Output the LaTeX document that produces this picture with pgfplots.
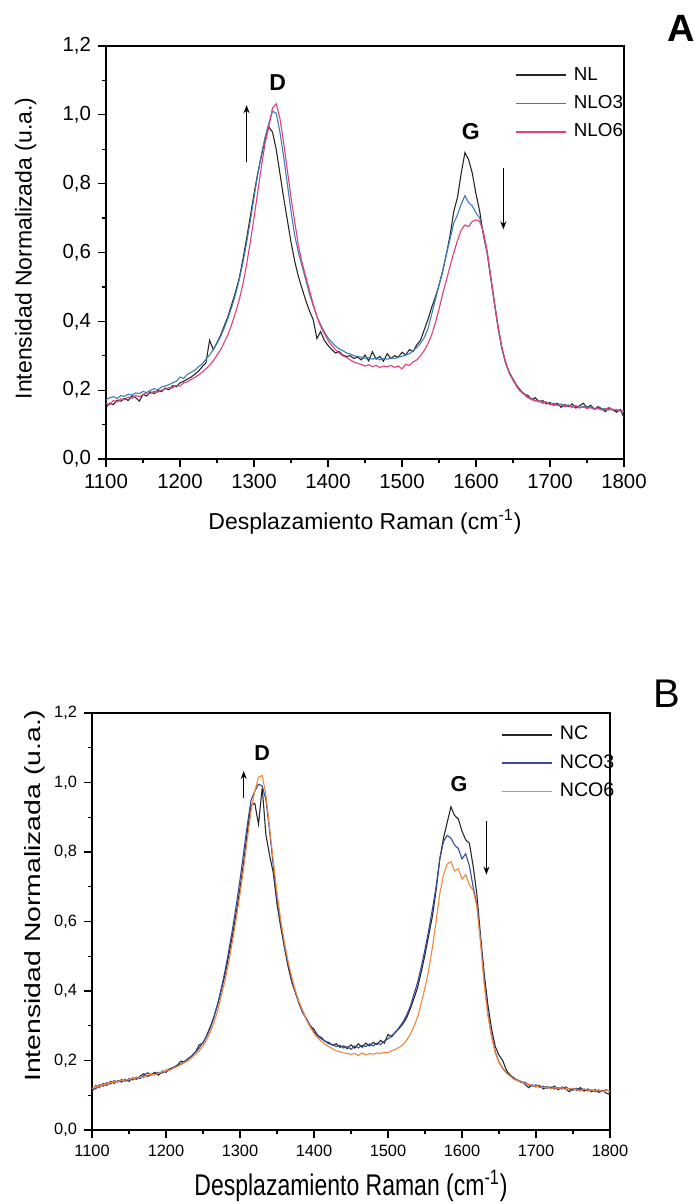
\documentclass[border=0pt]{standalone}
\usepackage{pgfplots}
\pgfplotsset{compat=1.18}
\usepackage{pgfplotstable}
\usepackage{graphicx}
\usepackage{fontspec}
\setmainfont{Liberation Sans}
\usetikzlibrary{arrows.meta}

\definecolor{nlblack}{RGB}{40,40,40}
\definecolor{nlblue}{RGB}{60,125,185}
\definecolor{nlpink}{RGB}{230,60,120}
\definecolor{ncblue}{RGB}{55,75,160}
\definecolor{ncorange}{RGB}{240,135,60}

% panel A: NL, NLO3, NLO6
\pgfplotstableread{
x nl nlo3 nlo6
1100 0.150 0.172 0.162
1105 0.162 0.178 0.158
1110 0.158 0.181 0.170
1115 0.171 0.176 0.166
1120 0.168 0.184 0.175
1125 0.176 0.182 0.172
1130 0.170 0.188 0.180
1135 0.184 0.186 0.176
1140 0.179 0.192 0.185
1145 0.168 0.190 0.181
1150 0.188 0.196 0.187
1155 0.183 0.193 0.192
1160 0.195 0.200 0.190
1165 0.190 0.204 0.197
1170 0.199 0.201 0.194
1175 0.196 0.209 0.200
1180 0.206 0.212 0.203
1185 0.201 0.216 0.208
1190 0.213 0.221 0.206
1195 0.210 0.226 0.214
1200 0.221 0.238 0.212
1205 0.226 0.234 0.221
1210 0.232 0.246 0.224
1215 0.238 0.252 0.231
1220 0.246 0.258 0.237
1225 0.255 0.268 0.244
1230 0.268 0.276 0.252
1235 0.279 0.290 0.262
1240 0.345 0.302 0.272
1245 0.318 0.318 0.286
1250 0.338 0.336 0.302
1255 0.360 0.356 0.318
1260 0.388 0.382 0.340
1265 0.415 0.410 0.362
1270 0.450 0.442 0.392
1275 0.485 0.478 0.425
1280 0.525 0.520 0.462
1285 0.580 0.570 0.508
1290 0.640 0.628 0.565
1295 0.705 0.692 0.630
1300 0.770 0.760 0.700
1305 0.830 0.825 0.775
1310 0.880 0.885 0.850
1315 0.930 0.935 0.918
1320 0.965 0.975 0.965
1325 0.950 1.010 1.020
1330 0.900 1.005 1.032
1335 0.830 0.950 0.990
1340 0.760 0.880 0.920
1345 0.695 0.800 0.840
1350 0.630 0.720 0.760
1355 0.575 0.650 0.690
1360 0.530 0.600 0.620
1365 0.495 0.560 0.570
1370 0.460 0.520 0.530
1375 0.430 0.480 0.490
1380 0.405 0.445 0.450
1385 0.350 0.415 0.415
1390 0.370 0.390 0.385
1395 0.345 0.370 0.365
1400 0.330 0.352 0.345
1405 0.318 0.340 0.330
1410 0.308 0.328 0.318
1415 0.312 0.320 0.308
1420 0.302 0.315 0.300
1425 0.298 0.308 0.295
1430 0.300 0.305 0.288
1435 0.292 0.300 0.282
1440 0.296 0.298 0.278
1445 0.288 0.296 0.275
1450 0.302 0.292 0.270
1455 0.285 0.295 0.274
1460 0.312 0.290 0.268
1465 0.290 0.294 0.272
1470 0.298 0.288 0.266
1475 0.284 0.292 0.270
1480 0.306 0.290 0.268
1485 0.292 0.294 0.272
1490 0.300 0.292 0.266
1495 0.296 0.296 0.270
1500 0.310 0.298 0.262
1505 0.302 0.302 0.275
1510 0.318 0.306 0.272
1515 0.312 0.314 0.282
1520 0.332 0.324 0.288
1525 0.345 0.336 0.300
1530 0.375 0.352 0.315
1535 0.405 0.378 0.335
1540 0.440 0.420 0.360
1545 0.470 0.462 0.395
1550 0.505 0.505 0.435
1555 0.545 0.548 0.480
1560 0.595 0.595 0.520
1565 0.650 0.640 0.560
1570 0.720 0.685 0.600
1575 0.760 0.710 0.635
1580 0.830 0.740 0.665
1585 0.890 0.765 0.680
1590 0.870 0.745 0.675
1595 0.830 0.735 0.690
1600 0.770 0.715 0.695
1605 0.720 0.700 0.690
1610 0.650 0.655 0.660
1615 0.600 0.600 0.605
1620 0.525 0.525 0.530
1625 0.450 0.452 0.455
1630 0.380 0.378 0.385
1635 0.320 0.322 0.325
1640 0.280 0.278 0.282
1645 0.252 0.250 0.250
1650 0.232 0.228 0.232
1655 0.214 0.212 0.210
1660 0.200 0.198 0.196
1665 0.188 0.190 0.188
1670 0.185 0.180 0.178
1675 0.172 0.176 0.174
1680 0.178 0.170 0.168
1685 0.166 0.168 0.170
1690 0.170 0.164 0.162
1695 0.160 0.166 0.164
1700 0.164 0.160 0.158
1705 0.156 0.162 0.160
1710 0.162 0.158 0.155
1715 0.150 0.160 0.157
1720 0.158 0.155 0.152
1725 0.152 0.157 0.155
1730 0.160 0.152 0.150
1735 0.148 0.155 0.153
1740 0.155 0.150 0.148
1745 0.162 0.153 0.151
1750 0.150 0.148 0.147
1755 0.156 0.151 0.149
1760 0.145 0.146 0.144
1765 0.152 0.149 0.147
1770 0.146 0.144 0.142
1775 0.138 0.147 0.145
1780 0.149 0.142 0.150
1785 0.142 0.145 0.141
1790 0.136 0.140 0.144
1795 0.144 0.143 0.139
1800 0.120 0.138 0.140
}\tabA

% panel B: NC, NCO3, NCO6
\pgfplotstableread{
x nc nco3 nco6
1100 0.110 0.122 0.118
1105 0.128 0.118 0.126
1110 0.122 0.130 0.124
1115 0.134 0.126 0.132
1120 0.128 0.136 0.130
1125 0.140 0.132 0.138
1130 0.134 0.142 0.136
1135 0.142 0.138 0.140
1140 0.138 0.145 0.142
1145 0.146 0.140 0.144
1150 0.140 0.148 0.146
1155 0.150 0.144 0.148
1160 0.146 0.152 0.150
1165 0.155 0.148 0.153
1170 0.162 0.156 0.150
1175 0.154 0.165 0.158
1180 0.160 0.158 0.161
1185 0.166 0.162 0.158
1190 0.158 0.166 0.164
1195 0.170 0.164 0.168
1200 0.166 0.172 0.170
1205 0.176 0.174 0.172
1210 0.180 0.178 0.178
1215 0.186 0.185 0.182
1220 0.198 0.190 0.188
1225 0.196 0.198 0.194
1230 0.206 0.204 0.200
1235 0.214 0.214 0.208
1240 0.225 0.224 0.218
1245 0.245 0.236 0.228
1250 0.250 0.252 0.242
1255 0.272 0.270 0.260
1260 0.298 0.294 0.282
1265 0.328 0.326 0.310
1270 0.362 0.365 0.345
1275 0.405 0.410 0.388
1280 0.450 0.460 0.432
1285 0.505 0.518 0.485
1290 0.562 0.580 0.545
1295 0.625 0.648 0.610
1300 0.695 0.720 0.680
1305 0.770 0.800 0.755
1310 0.860 0.880 0.840
1315 0.935 0.950 0.920
1320 0.940 0.975 0.975
1325 0.880 0.995 1.015
1330 0.985 0.990 1.020
1335 0.850 0.950 0.965
1340 0.790 0.860 0.870
1345 0.740 0.760 0.775
1350 0.650 0.665 0.680
1355 0.585 0.595 0.605
1360 0.525 0.530 0.540
1365 0.470 0.478 0.485
1370 0.425 0.430 0.440
1375 0.395 0.395 0.400
1380 0.365 0.362 0.368
1385 0.340 0.335 0.342
1390 0.318 0.320 0.315
1395 0.300 0.298 0.296
1400 0.290 0.282 0.278
1405 0.272 0.270 0.265
1410 0.266 0.262 0.255
1415 0.255 0.256 0.246
1420 0.252 0.248 0.240
1425 0.244 0.246 0.234
1430 0.248 0.240 0.228
1435 0.238 0.244 0.225
1440 0.242 0.236 0.222
1445 0.234 0.240 0.220
1450 0.245 0.232 0.218
1455 0.236 0.242 0.220
1460 0.248 0.236 0.214
1465 0.238 0.244 0.222
1470 0.250 0.240 0.216
1475 0.242 0.248 0.220
1480 0.252 0.242 0.218
1485 0.246 0.250 0.222
1490 0.258 0.246 0.220
1495 0.250 0.256 0.224
1500 0.275 0.262 0.222
1505 0.268 0.272 0.228
1510 0.282 0.280 0.232
1515 0.292 0.295 0.238
1520 0.305 0.310 0.245
1525 0.322 0.330 0.258
1530 0.348 0.355 0.275
1535 0.378 0.390 0.298
1540 0.410 0.425 0.325
1545 0.455 0.470 0.365
1550 0.505 0.520 0.410
1555 0.560 0.575 0.460
1560 0.615 0.635 0.525
1565 0.690 0.700 0.600
1570 0.780 0.780 0.680
1575 0.840 0.830 0.735
1580 0.885 0.848 0.765
1585 0.930 0.840 0.772
1590 0.905 0.820 0.745
1595 0.895 0.810 0.752
1600 0.860 0.780 0.722
1605 0.835 0.795 0.735
1610 0.825 0.760 0.705
1615 0.760 0.700 0.690
1620 0.680 0.650 0.645
1625 0.560 0.550 0.540
1630 0.450 0.430 0.420
1635 0.360 0.335 0.330
1640 0.290 0.270 0.268
1645 0.240 0.225 0.222
1650 0.215 0.195 0.194
1655 0.200 0.178 0.176
1660 0.172 0.165 0.164
1665 0.158 0.156 0.155
1670 0.150 0.148 0.146
1675 0.142 0.144 0.142
1680 0.140 0.136 0.138
1685 0.132 0.138 0.134
1690 0.122 0.130 0.132
1695 0.130 0.126 0.128
1700 0.124 0.130 0.126
1705 0.128 0.122 0.124
1710 0.118 0.126 0.122
1715 0.125 0.120 0.124
1720 0.120 0.124 0.118
1725 0.126 0.118 0.122
1730 0.116 0.122 0.120
1735 0.124 0.118 0.122
1740 0.118 0.124 0.116
1745 0.110 0.118 0.120
1750 0.120 0.114 0.118
1755 0.114 0.120 0.116
1760 0.122 0.116 0.112
1765 0.112 0.118 0.118
1770 0.118 0.112 0.114
1775 0.110 0.116 0.116
1780 0.116 0.110 0.112
1785 0.108 0.114 0.116
1790 0.114 0.112 0.110
1795 0.106 0.116 0.114
1800 0.102 0.110 0.112
}\tabB

\pgfplotsset{
  raman/.style={
    scale only axis, width=259pt,
    xmin=1100, xmax=1800, ymin=0, ymax=1.2,
    xtick={1100,1200,1300,1400,1500,1600,1700,1800},
    ytick={0,0.2,0.4,0.6,0.8,1.0,1.2},
    minor x tick num=1, minor y tick num=1,
    tick align=outside, xtick pos=bottom, ytick pos=left,
    major tick length=4pt, minor tick length=2.2pt,
    axis line style={line width=0.7pt},
    every tick/.style={black, line width=0.6pt},
    xticklabel style={/pgf/number format/.cd, fixed, precision=0,
      set thousands separator={}, assume math mode=true},
    yticklabel style={/pgf/number format/.cd, use comma, fixed,
      fixed zerofill, precision=1, assume math mode=true},
    legend cell align=left,
    legend image code/.code={%
      \draw[#1, line width=0.75pt] (0pt,0pt) -- (25pt,0pt);
      \path (27.5pt,0pt);},
    legend style={draw=none, fill=none, inner sep=0pt, anchor=north west,
      row sep=3.2pt,
      nodes={inner sep=1pt, text height=7pt, text depth=2pt}},
  },
}

\begin{document}
\begin{tikzpicture}
\path[use as bounding box] (0,0) rectangle (347.5pt,602pt);

\begin{axis}[raman, at={(53pt,372.5pt)}, anchor=south west, height=206.5pt,
  ticklabel style={font=\fontsize{10.2}{12}\selectfont},
  xlabel={Desplazamiento Raman (cm\textsuperscript{-1})},
  ylabel={Intensidad Normalizada (u.a.)},
  xlabel style={at={(axis description cs:0.5,-0.153)}, anchor=center,
    font=\fontsize{11.5}{13}\selectfont},
  ylabel style={at={(axis description cs:-0.155,0.51)}, anchor=center,
    font=\fontsize{11.5}{13}\selectfont},
  legend style={at={(rel axis cs:0.79,0.957)},
    font=\fontsize{9.4}{11}\selectfont},
]
\addplot[nlblack, line width=0.55pt] table[x=x, y=nl] {\tabA};
\addplot[nlblue, line width=0.55pt] table[x=x, y=nlo3] {\tabA};
\addplot[nlpink, line width=0.55pt] table[x=x, y=nlo6] {\tabA};
\legend{NL, NLO3, NLO6}
\node[font=\bfseries\fontsize{11.5}{13}\selectfont] at (axis cs:1332,1.095) {D};
\node[font=\bfseries\fontsize{11.5}{13}\selectfont] at (axis cs:1593,0.95) {G};
\draw[line width=0.6pt, -{Stealth[length=4pt, width=3pt]}] (axis cs:1290,0.864) -- (axis cs:1290,1.028);
\draw[line width=0.6pt, -{Stealth[length=4pt, width=3pt]}] (axis cs:1637,0.846) -- (axis cs:1637,0.667);
\end{axis}

\begin{axis}[raman, at={(46pt,37pt)}, anchor=south west, height=208.5pt,
  ticklabel style={font=\fontsize{8.2}{10}\selectfont},
  xlabel={\scalebox{1}[1.3]{Desplazamiento Raman (cm\textsuperscript{-1})}},
  ylabel={\scalebox{1.29}[1]{Intensidad Normalizada (u.a.)}},
  xlabel style={at={(axis description cs:0.5,-0.134)}, anchor=center,
    font=\fontsize{11.5}{13}\selectfont},
  ylabel style={at={(axis description cs:-0.11,0.562)}, anchor=center,
    font=\fontsize{11}{13}\selectfont},
  legend style={at={(rel axis cs:0.79,0.975)},
    font=\fontsize{9.8}{11}\selectfont},
]
\addplot[nlblack, line width=0.55pt] table[x=x, y=nc] {\tabB};
\addplot[ncblue, line width=0.55pt] table[x=x, y=nco3] {\tabB};
\addplot[ncorange, line width=0.55pt] table[x=x, y=nco6] {\tabB};
\legend{NC, NCO3, NCO6}
\node[font=\bfseries\fontsize{10.8}{13}\selectfont] at (axis cs:1330,1.086) {D};
\node[font=\bfseries\fontsize{10.8}{13}\selectfont] at (axis cs:1596,0.995) {G};
\draw[line width=0.6pt, -{Stealth[length=4pt, width=3pt]}] (axis cs:1305,0.954) -- (axis cs:1305,1.033);
\draw[line width=0.6pt, -{Stealth[length=4pt, width=3pt]}] (axis cs:1633,0.888) -- (axis cs:1633,0.735);
\end{axis}

\node[font=\bfseries\fontsize{19}{19}\selectfont] at (340.5pt,588pt) {A};
\node[font=\fontsize{20}{20}\selectfont] at (333.5pt,255pt) {B};
\end{tikzpicture}
\end{document}
